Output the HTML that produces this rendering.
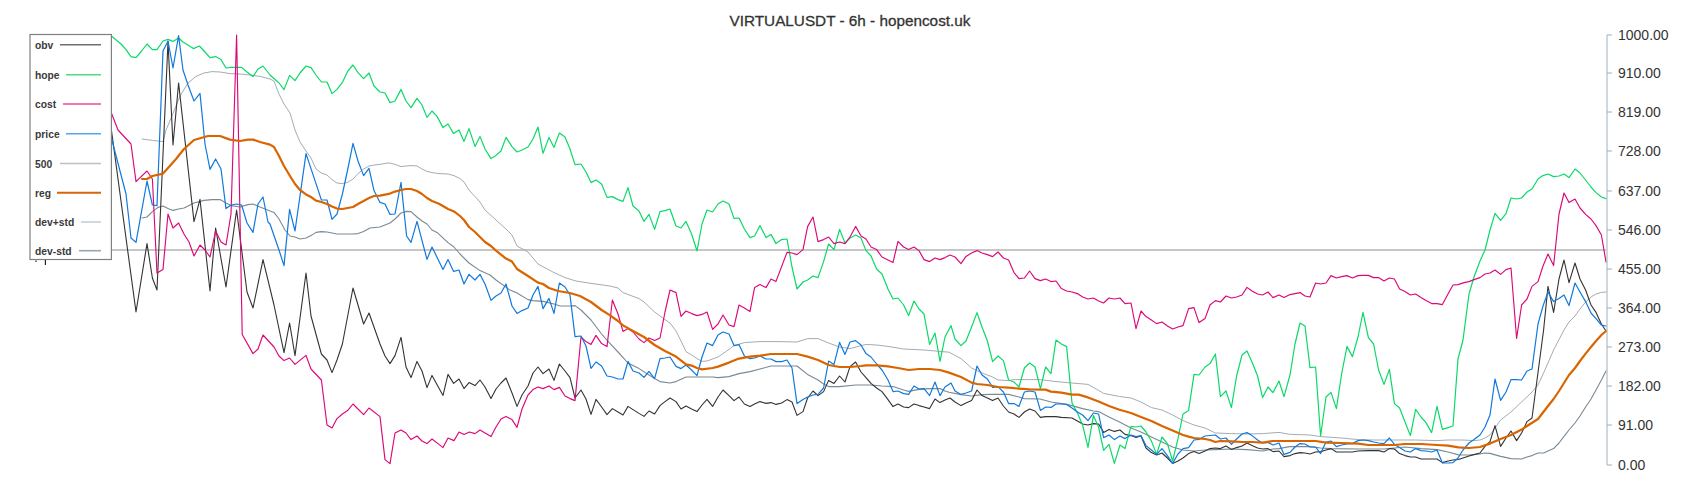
<!DOCTYPE html>
<html><head><meta charset="utf-8"><title>VIRTUALUSDT - 6h - hopencost.uk</title>
<style>
html,body{margin:0;padding:0;background:#fff;}
body{width:1700px;height:500px;overflow:hidden;}
svg{display:block;}
text{font-family:"Liberation Sans",sans-serif;fill:#333;}
.title{font-size:15.3px;fill:#333;stroke:#333;stroke-width:0.3px;}
.yl{font-size:14px;fill:#333;}
.lg{font-size:10.3px;font-weight:bold;fill:#3a3a3a;}
</style></head><body>
<svg width="1700" height="500" viewBox="0 0 1700 500">
<rect width="1700" height="500" fill="#fff"/>
<text x="850" y="26" text-anchor="middle" class="title" id="title">VIRTUALUSDT - 6h - hopencost.uk</text>
<g id="series">
<line x1="111.4" y1="250" x2="1606" y2="250" stroke="#b4b4b4" stroke-width="1.3"/>
<polyline points="142.0,139.0 152.4,140.4 163.0,141.6 166.0,130.0 172.0,116.0 180.0,96.0 188.0,83.0 196.0,76.4 204.0,73.0 212.0,71.6 220.0,72.0 230.0,73.6 240.0,74.0 250.0,75.0 260.0,76.4 270.0,79.0 274.0,81.0 279.0,94.0 284.0,104.0 290.0,113.0 295.0,130.0 300.0,142.0 306.0,151.0 311.0,158.0 316.0,169.0 321.4,173.0 327.0,175.0 332.0,179.6 337.0,183.0 342.4,183.6 347.6,182.4 353.0,179.0 358.0,173.6 363.6,169.0 369.0,166.0 374.0,165.0 380.0,164.4 385.0,163.4 390.0,163.0 395.0,164.4 401.0,166.6 406.0,166.0 411.0,165.6 417.0,166.0 422.0,169.0 427.0,171.4 432.0,172.6 439.0,173.6 448.0,174.0 454.0,175.6 460.0,178.6 464.0,182.0 469.0,190.0 480.0,202.0 485.0,210.0 496.0,220.0 506.0,229.0 512.0,235.0 517.0,246.0 528.0,252.0 538.0,264.0 554.0,272.6 565.0,277.6 576.0,281.0 591.0,283.4 610.0,286.0 618.0,288.0 623.0,292.6 639.0,298.6 644.0,302.0 654.6,312.0 665.0,319.6 670.0,323.0 676.0,331.0 681.0,341.0 686.0,351.6 691.6,355.0 697.0,358.6 702.0,361.4 707.0,361.0 718.0,357.0 729.0,349.4 734.0,345.6 744.4,342.6 760.0,341.6 779.0,341.6 797.0,342.0 807.6,338.6 818.0,338.6 828.6,343.0 839.6,347.0 850.0,348.6 866.0,344.4 876.6,345.0 888.0,346.4 903.6,349.0 924.0,350.0 940.0,351.4 949.0,352.2 961.0,358.6 971.6,368.0 982.0,373.0 992.6,377.0 998.0,380.0 1008.6,380.6 1014.0,379.6 1029.6,379.6 1040.4,379.6 1056.0,381.6 1072.0,383.0 1088.0,384.4 1098.6,390.4 1103.6,393.4 1119.5,396.5 1131.0,398.0 1141.0,402.0 1151.4,407.6 1162.0,410.0 1172.6,415.0 1183.0,420.6 1194.0,425.0 1205.0,428.0 1215.4,433.0 1231.4,433.6 1247.0,434.0 1262.6,433.6 1279.0,432.4 1289.5,434.3 1310.0,435.0 1320.6,436.6 1341.6,438.0 1358.0,439.6 1373.6,440.0 1394.4,440.0 1415.6,440.0 1437.0,440.6 1448.0,440.0 1459.0,440.0 1463.0,440.0 1474.0,440.6 1480.0,440.0 1485.0,438.0 1490.0,435.0 1495.0,428.0 1500.6,420.0 1511.0,412.0 1521.6,402.0 1532.0,392.0 1538.0,385.0 1543.6,373.0 1553.6,350.0 1564.0,330.0 1569.0,322.0 1575.0,316.0 1580.0,309.0 1585.6,302.0 1591.0,297.0 1596.0,294.0 1601.4,292.4 1606.0,292.0" fill="none" stroke="#9da8b0" stroke-width="0.95" stroke-linejoin="round" stroke-linecap="round" />
<polyline points="142.0,218.0 147.0,217.0 152.4,211.6 158.0,207.4 163.0,206.0 168.0,208.4 173.0,210.4 178.6,209.0 184.0,208.0 194.0,203.0 204.0,200.4 212.0,199.6 220.0,199.6 226.0,203.0 231.0,205.6 240.0,207.0 248.0,204.6 253.0,204.0 260.0,207.0 270.0,211.0 274.0,212.4 279.0,219.0 285.0,230.0 290.0,236.0 295.0,237.0 300.0,239.0 306.0,238.0 311.0,235.6 316.0,232.4 321.4,231.6 327.0,232.0 332.0,233.0 337.0,234.0 342.4,234.0 347.6,234.0 353.0,234.0 358.0,233.6 363.6,231.6 370.0,228.0 380.0,227.0 390.0,223.0 395.0,219.0 401.0,213.0 406.0,211.4 411.0,211.6 417.0,217.0 422.0,221.0 427.0,224.0 432.0,230.0 437.0,232.4 448.0,242.6 454.0,247.0 460.0,254.0 469.0,263.0 480.0,270.6 490.0,275.0 496.0,280.0 509.0,289.4 517.0,293.0 528.0,299.6 533.0,300.6 543.0,301.4 554.0,304.0 560.0,306.0 570.0,306.0 575.0,305.6 581.0,310.0 591.0,320.0 601.6,334.0 609.0,342.4 618.0,352.0 628.0,363.0 639.0,368.6 649.0,375.0 654.6,378.6 660.0,381.6 670.0,383.0 676.0,381.6 686.0,377.0 697.0,377.0 712.6,377.0 718.0,377.6 729.0,376.6 739.0,373.6 750.0,371.6 760.0,369.0 771.0,366.0 779.0,366.0 797.0,366.0 807.6,374.4 818.0,380.0 823.6,384.0 828.6,386.6 839.6,386.6 855.6,385.0 871.0,385.0 882.0,386.0 893.0,386.6 903.6,390.0 908.6,391.4 919.0,389.4 929.6,388.6 940.0,388.6 945.0,391.0 949.0,392.2 961.0,394.6 971.6,396.0 982.0,394.6 992.6,394.4 1008.6,394.4 1019.0,397.0 1024.4,398.6 1040.0,399.0 1051.0,402.0 1061.4,403.6 1066.6,404.4 1072.0,405.6 1082.6,408.6 1093.4,411.0 1098.6,411.6 1109.0,417.0 1119.5,422.0 1131.0,428.0 1141.0,432.0 1151.4,437.0 1162.0,442.0 1172.6,447.0 1183.0,450.0 1194.0,451.0 1205.0,450.0 1215.4,449.6 1231.4,449.0 1247.0,449.6 1262.6,451.0 1273.0,449.0 1279.0,448.6 1289.5,446.6 1310.0,446.6 1320.6,448.0 1331.0,448.6 1358.0,449.0 1384.0,449.0 1394.4,448.0 1405.0,447.0 1421.0,448.6 1437.0,449.6 1448.0,452.0 1458.5,454.9 1469.0,455.0 1480.0,454.0 1485.0,453.0 1490.0,453.4 1500.6,456.4 1511.0,458.6 1521.6,459.0 1527.0,457.0 1532.0,455.6 1538.0,453.0 1543.6,453.0 1553.6,448.6 1559.0,443.0 1564.0,436.4 1569.0,430.0 1575.0,423.0 1580.0,416.0 1585.6,407.0 1591.0,399.0 1596.0,390.0 1601.4,380.0 1606.0,371.0" fill="none" stroke="#7a8993" stroke-width="1.1" stroke-linejoin="round" stroke-linecap="round" />
<polyline points="111.4,130.0 136.0,312.0 147.0,243.6 152.4,278.0 157.0,290.0 168.0,41.6 173.0,145.0 178.6,83.0 194.0,221.6 200.0,199.4 210.0,291.0 215.6,228.0 226.0,287.0 236.6,210.0 247.0,292.0 253.0,308.0 263.0,259.6 274.0,305.0 284.0,352.6 289.6,323.0 295.0,355.6 306.0,273.0 311.0,316.0 321.4,354.0 327.0,360.0 332.0,372.6 337.0,360.0 342.4,344.0 353.0,288.0 363.6,324.0 369.0,313.0 380.0,344.0 385.0,356.0 390.0,363.6 395.0,355.6 401.0,337.4 406.0,367.0 411.0,377.6 417.0,361.4 422.0,371.0 427.0,387.6 432.0,375.4 443.0,395.4 448.0,374.4 453.6,383.4 459.0,379.0 464.0,388.6 469.0,382.6 475.0,385.6 480.0,380.0 485.0,387.0 491.0,398.6 496.0,389.0 501.0,383.0 506.0,378.0 512.0,393.0 517.0,406.4 522.0,395.0 528.0,386.0 533.0,373.0 538.0,367.0 543.0,373.6 549.0,369.0 554.0,380.4 559.4,364.0 565.0,371.0 570.0,377.6 575.0,398.0 581.0,390.0 586.0,399.0 591.0,414.4 596.0,399.4 601.6,407.0 607.0,414.6 612.4,408.6 618.0,412.0 623.0,415.0 628.0,406.4 633.0,409.6 639.0,413.4 644.0,416.4 649.0,411.0 654.6,414.0 660.0,405.6 665.0,401.6 670.0,398.0 676.0,401.6 681.0,409.0 686.0,406.0 691.6,409.0 697.0,411.6 702.0,405.0 707.0,399.4 712.6,406.4 718.0,397.0 723.0,390.0 729.0,395.6 734.0,400.6 739.0,397.0 744.4,404.0 750.0,406.6 754.6,404.0 760.0,401.6 766.0,403.4 771.0,402.6 776.0,404.4 781.6,403.0 787.0,399.6 792.0,402.0 797.0,415.4 803.0,411.6 807.6,398.0 813.0,391.0 818.0,395.6 823.6,391.6 828.6,380.4 834.0,383.4 839.6,376.0 845.0,382.0 850.0,366.6 855.6,362.0 861.0,372.0 866.0,377.6 871.0,383.4 876.6,388.0 882.0,391.6 888.0,399.6 893.0,406.6 898.0,404.0 903.6,407.0 908.6,407.6 914.0,404.0 919.0,405.6 924.0,407.0 929.6,408.6 935.0,399.0 940.0,402.6 945.0,400.0 950.0,398.0 955.0,402.0 961.0,405.6 966.0,403.0 971.6,400.6 977.0,390.0 982.0,395.6 987.4,398.0 992.6,400.6 998.0,398.0 1003.4,406.0 1008.6,412.0 1014.0,414.0 1019.0,417.4 1024.4,412.0 1029.6,409.0 1035.0,411.0 1040.4,417.4 1045.6,416.6 1056.0,416.6 1061.4,417.4 1072.0,418.0 1077.4,421.0 1082.6,424.0 1088.0,425.0 1093.4,423.6 1098.6,424.0 1103.6,432.4 1109.0,429.4 1114.4,431.4 1120.0,430.0 1125.0,434.4 1131.0,435.6 1136.0,437.6 1141.0,436.0 1146.0,448.0 1151.4,452.6 1156.6,455.0 1162.0,453.0 1167.4,458.0 1172.6,463.4 1178.0,461.0 1183.0,458.0 1188.6,453.6 1194.0,451.6 1199.0,453.6 1205.0,451.0 1210.0,448.6 1215.4,448.0 1220.4,448.6 1226.0,446.0 1231.4,449.4 1236.6,447.6 1242.0,446.0 1247.0,443.0 1252.0,445.6 1257.6,448.0 1262.6,449.0 1268.0,448.6 1273.0,451.6 1279.0,451.0 1284.0,456.6 1290.0,455.6 1295.0,453.6 1300.0,452.6 1305.0,453.0 1310.0,454.0 1315.6,452.0 1320.6,451.6 1326.0,450.0 1331.0,448.6 1336.4,452.0 1341.6,452.0 1352.4,452.0 1358.0,451.0 1368.4,450.6 1378.6,450.6 1384.0,452.0 1389.4,448.6 1394.4,449.0 1399.6,453.6 1405.0,455.6 1410.4,457.0 1415.6,457.0 1421.0,459.0 1431.6,459.0 1437.0,459.0 1442.4,462.6 1448.0,461.0 1453.0,460.0 1458.5,459.5 1463.0,458.0 1469.0,456.0 1474.0,454.6 1480.0,453.0 1485.0,446.4 1490.0,441.6 1495.0,425.6 1500.6,446.4 1506.0,438.0 1511.0,431.0 1516.6,440.6 1521.6,433.0 1527.0,421.6 1532.0,418.0 1543.6,330.0 1548.0,286.4 1553.6,312.4 1559.0,279.0 1564.0,260.0 1569.0,282.6 1575.0,263.0 1580.0,279.0 1585.6,290.0 1591.0,305.0 1596.0,312.4 1601.4,324.0 1606.0,331.0" fill="none" stroke="#333333" stroke-width="1.1" stroke-linejoin="round" stroke-linecap="round" />
<polyline points="111.4,36.0 121.0,44.0 126.0,49.6 131.0,56.6 136.0,57.6 141.6,51.0 147.0,44.0 152.4,49.6 157.0,49.6 163.0,41.0 168.0,39.4 173.0,41.4 178.6,38.0 183.0,42.0 188.0,45.0 193.4,48.6 199.4,46.0 205.0,52.0 210.0,57.6 215.6,56.6 221.0,59.6 226.0,68.0 231.0,67.4 236.6,67.4 241.6,67.4 247.0,72.0 253.0,76.6 258.0,69.0 263.0,66.0 270.0,75.0 279.0,83.0 284.0,89.6 289.6,75.4 295.0,80.6 300.0,73.0 306.0,66.0 311.0,67.6 316.0,75.0 321.4,82.0 327.0,82.0 332.0,93.6 337.0,89.4 342.4,82.4 347.6,71.4 353.0,65.0 358.0,72.6 363.6,78.6 369.0,73.0 374.0,86.0 380.0,92.0 385.0,93.0 390.0,102.6 395.0,101.0 401.0,89.4 406.0,101.0 411.0,107.6 417.0,98.4 422.0,105.0 427.0,117.4 432.0,111.0 437.0,116.4 443.0,127.6 448.0,124.0 453.6,133.6 459.0,130.0 464.0,141.4 469.0,128.6 475.0,146.4 480.0,136.4 485.0,149.0 491.0,158.6 496.0,155.4 501.0,151.0 506.0,137.4 512.0,146.6 517.0,152.0 522.0,150.0 528.0,147.0 533.0,139.0 538.0,127.0 543.0,153.4 549.0,137.4 554.0,147.4 559.4,133.0 565.0,137.0 570.0,149.0 575.0,164.6 581.0,164.0 586.0,172.0 591.0,182.6 596.0,180.0 601.6,184.0 607.0,197.4 612.4,196.6 618.0,199.6 623.0,201.4 628.0,187.6 633.0,206.0 639.0,211.0 644.0,221.4 649.0,214.4 654.6,229.4 660.0,211.6 665.0,210.6 670.0,209.0 676.0,226.0 681.0,228.0 686.0,221.4 691.6,234.0 697.0,251.0 702.0,224.0 707.0,210.0 712.6,212.0 718.0,204.0 723.0,201.0 729.0,204.0 734.0,218.4 739.0,218.0 744.4,229.0 750.0,237.6 754.6,236.0 760.0,225.4 766.0,237.6 771.0,234.4 776.0,243.6 781.6,239.6 787.0,239.0 792.0,267.0 797.0,289.0 803.0,282.0 807.6,280.0 813.0,276.0 818.0,277.6 823.6,261.6 828.6,244.0 834.0,249.6 839.6,229.4 845.0,243.0 850.0,238.0 855.6,235.0 861.0,238.0 866.0,250.6 871.0,256.0 876.6,269.0 882.0,274.0 888.0,289.0 893.0,299.0 898.0,298.0 903.6,305.0 908.6,315.6 914.0,301.0 919.0,309.0 924.0,314.0 929.6,344.4 935.0,333.0 940.0,361.4 945.0,337.0 951.0,325.6 955.0,339.0 961.0,345.6 966.0,341.0 971.6,327.0 977.0,312.6 982.0,327.0 987.4,341.0 992.6,361.6 998.0,356.0 1003.4,360.6 1008.6,380.0 1014.0,382.0 1019.0,387.0 1024.4,368.0 1029.6,363.0 1035.0,367.0 1040.4,388.6 1045.6,367.0 1051.0,373.6 1056.0,340.0 1061.4,344.0 1066.6,346.6 1072.0,403.0 1077.4,413.0 1082.6,425.0 1088.0,447.4 1093.4,415.6 1098.6,427.0 1103.6,450.4 1109.0,444.4 1114.4,463.4 1120.0,445.0 1125.0,448.6 1131.0,426.4 1136.0,427.0 1141.0,426.0 1146.0,432.0 1151.4,441.0 1156.6,454.4 1162.0,437.0 1167.4,443.6 1172.6,461.0 1178.0,438.6 1183.0,414.0 1188.6,410.4 1194.0,374.4 1199.0,375.0 1205.0,367.0 1210.0,363.6 1215.4,354.0 1220.4,396.6 1226.0,391.0 1231.4,407.6 1236.6,376.0 1242.0,355.0 1247.0,351.0 1252.0,362.0 1257.6,376.0 1262.6,397.6 1268.0,387.0 1273.0,392.6 1279.0,381.0 1284.0,396.6 1290.0,375.0 1295.0,344.0 1300.0,323.0 1305.0,326.0 1310.0,367.6 1315.6,367.0 1320.6,436.0 1326.0,397.0 1331.0,392.4 1336.4,408.6 1341.6,374.0 1347.0,346.4 1352.4,356.6 1358.0,337.0 1363.0,312.4 1368.4,337.6 1373.6,344.0 1378.6,370.0 1384.0,384.4 1389.4,369.4 1394.4,403.6 1399.6,408.0 1405.0,422.0 1410.4,435.6 1415.6,409.4 1421.0,417.0 1426.0,422.6 1431.6,432.6 1437.0,406.4 1442.4,429.4 1448.0,427.6 1453.0,426.0 1458.0,359.0 1463.0,340.0 1469.0,294.0 1474.0,277.0 1480.0,261.0 1485.0,250.0 1490.0,230.0 1495.0,213.4 1500.6,220.4 1506.0,213.6 1511.0,198.0 1516.6,199.0 1521.6,198.0 1527.0,192.0 1532.0,189.0 1538.0,179.0 1543.0,175.6 1548.0,174.0 1553.6,176.6 1559.0,176.0 1564.0,174.0 1569.0,177.6 1575.0,169.0 1580.0,173.0 1585.6,180.0 1591.0,187.0 1596.0,192.6 1601.4,197.0 1606.0,198.6" fill="none" stroke="#0bd968" stroke-width="1.2" stroke-linejoin="round" stroke-linecap="round" />
<polyline points="111.4,113.0 118.0,130.0 131.0,144.0 136.0,181.6 147.0,171.0 152.4,179.0 157.0,273.0 163.0,269.4 168.0,214.0 173.0,228.0 178.6,223.0 184.0,234.0 189.0,242.0 194.0,256.0 200.0,245.0 205.0,250.0 210.0,257.0 215.6,231.0 221.0,242.0 226.0,245.0 231.0,214.0 236.6,35.0 242.2,334.5 253.0,353.6 258.0,349.0 263.0,335.0 274.0,347.0 279.0,356.0 284.0,360.6 289.6,358.0 295.0,364.4 306.0,355.4 311.0,369.0 321.4,380.0 327.0,425.0 332.0,428.0 337.0,418.6 342.4,414.0 347.6,410.6 353.0,404.0 363.6,414.6 369.0,408.0 380.0,416.6 385.0,459.6 390.0,463.6 395.0,433.0 401.0,430.0 406.0,433.0 411.0,439.6 417.0,436.0 422.0,441.0 427.0,443.6 432.0,439.0 438.0,443.6 443.0,447.6 448.0,438.0 454.0,440.6 459.0,432.0 464.0,434.6 469.4,432.0 475.0,433.6 480.0,430.0 491.0,436.6 496.0,427.0 501.0,419.0 506.0,416.6 512.0,419.6 517.0,427.4 522.0,409.0 528.0,395.0 533.0,389.6 538.0,387.0 543.0,388.6 549.0,386.0 554.0,389.6 559.4,387.4 565.0,396.0 570.0,398.6 575.0,400.6 581.0,337.0 586.0,341.6 591.0,344.4 596.0,335.4 601.6,343.6 607.0,346.6 612.4,300.0 618.0,314.0 623.0,331.4 628.0,328.6 633.0,332.0 639.0,339.0 644.0,342.6 649.0,338.0 654.6,340.6 660.0,338.0 665.0,312.0 670.0,290.0 676.0,292.6 681.0,316.4 686.0,311.0 691.6,313.6 697.0,315.6 702.0,314.4 707.0,312.0 712.6,329.4 718.0,324.0 723.0,315.0 729.0,325.0 734.0,326.6 739.0,305.0 744.4,308.0 750.0,311.4 754.6,287.6 760.0,284.6 766.0,287.6 771.0,279.0 776.0,281.4 787.0,252.4 792.0,253.0 797.0,254.6 803.0,249.6 807.6,226.6 813.0,217.0 818.0,241.6 823.6,239.6 828.6,237.0 834.0,243.6 839.6,242.0 845.0,243.6 850.0,237.0 855.6,226.4 861.0,236.0 866.0,239.0 871.0,247.0 876.6,249.6 882.0,257.0 888.0,260.0 893.0,262.6 898.0,241.4 903.6,247.0 908.6,249.6 914.0,247.0 919.0,250.6 924.0,259.6 929.6,261.6 935.0,258.0 940.0,259.6 945.0,257.6 950.0,255.0 955.0,257.0 961.0,263.6 966.0,256.4 971.6,253.0 977.0,250.6 982.0,253.0 987.4,254.6 992.6,256.6 998.0,252.0 1003.4,258.0 1008.6,260.0 1014.0,272.6 1019.0,278.6 1024.4,278.0 1029.6,271.0 1035.0,278.6 1040.4,280.6 1045.6,279.0 1051.0,281.6 1056.0,281.0 1061.4,288.6 1066.6,291.0 1072.0,292.0 1077.4,293.6 1082.6,297.0 1088.0,299.0 1093.4,298.0 1098.6,301.0 1103.6,303.0 1109.0,298.0 1114.4,299.0 1120.0,298.0 1125.0,303.6 1131.0,303.0 1136.0,328.6 1141.0,311.0 1146.0,316.6 1151.4,320.0 1156.6,323.6 1162.0,322.0 1167.4,326.0 1172.6,329.0 1178.0,327.0 1183.0,325.6 1188.6,308.6 1194.0,307.6 1199.0,322.6 1205.0,318.6 1210.0,305.0 1215.4,300.6 1220.4,302.0 1226.0,296.0 1231.4,298.0 1236.6,297.0 1242.0,295.0 1247.0,287.4 1252.0,291.0 1257.6,294.0 1262.6,295.0 1268.0,292.0 1273.0,297.6 1279.0,295.0 1284.0,297.6 1290.0,294.6 1295.0,293.6 1300.0,292.6 1305.0,296.0 1310.0,297.0 1315.6,283.0 1320.6,284.0 1326.0,283.0 1331.0,275.6 1336.4,278.0 1341.6,276.6 1347.0,275.6 1352.4,278.0 1358.0,275.6 1363.0,275.4 1368.4,275.4 1373.6,277.6 1378.6,277.6 1384.0,281.0 1389.4,278.0 1394.4,279.0 1399.6,289.0 1405.0,291.6 1410.4,295.0 1415.6,294.0 1421.0,297.6 1426.0,300.6 1431.6,303.6 1437.0,303.6 1442.4,304.6 1448.0,294.0 1453.0,285.0 1458.0,284.6 1464.0,282.6 1469.0,281.6 1474.0,279.6 1480.0,277.6 1485.0,274.0 1490.0,273.0 1495.0,270.0 1500.6,274.4 1506.0,269.6 1511.0,268.0 1516.6,338.4 1521.6,305.0 1527.0,299.0 1532.0,286.4 1538.0,281.6 1543.0,266.0 1548.0,254.0 1553.6,265.6 1559.0,214.0 1564.0,193.0 1569.0,202.6 1575.0,199.0 1580.0,208.0 1585.6,214.4 1591.0,219.0 1596.0,225.6 1601.4,235.0 1606.0,262.0" fill="none" stroke="#dc0878" stroke-width="1.15" stroke-linejoin="round" stroke-linecap="round" />
<polyline points="111.4,138.0 126.0,194.0 131.0,238.0 136.0,242.4 147.0,181.0 152.4,205.0 157.0,205.6 163.0,51.0 168.0,41.0 173.0,68.0 178.6,35.6 183.0,70.0 188.0,85.0 194.0,101.0 200.0,93.4 205.0,144.0 210.0,169.4 215.6,159.0 221.0,169.0 226.0,208.6 231.0,205.0 236.6,204.0 241.6,205.0 247.0,223.0 253.0,232.4 258.0,204.0 263.0,197.0 268.0,222.0 270.0,224.0 279.0,250.0 284.0,265.6 289.6,209.4 295.0,231.0 306.0,153.6 311.0,168.6 316.0,183.6 321.4,200.0 327.0,200.0 332.0,219.4 337.0,214.0 342.4,194.0 347.6,170.0 353.0,143.4 358.0,161.0 363.6,175.6 369.0,168.4 374.0,190.6 380.0,202.4 385.0,204.0 390.0,214.4 395.0,214.0 401.0,182.4 406.6,236.0 411.0,242.4 417.0,221.4 427.0,259.4 432.0,247.0 443.0,269.4 448.0,259.6 453.6,271.4 459.0,270.0 464.0,284.0 469.0,274.4 475.0,280.0 480.0,274.4 485.0,284.0 491.0,300.4 496.0,296.0 501.0,293.0 506.0,284.0 512.0,306.0 517.0,313.4 522.0,310.6 528.0,308.0 533.0,295.0 538.0,286.4 543.0,308.6 549.0,298.4 554.0,313.4 559.4,283.0 565.0,287.0 570.0,295.0 575.0,336.6 581.0,336.0 586.0,346.0 591.0,368.4 596.0,362.0 601.6,366.0 607.0,376.0 612.4,377.0 618.0,379.0 623.0,379.0 628.0,361.4 633.0,371.0 639.0,373.0 644.0,377.4 649.0,371.4 654.6,378.6 660.0,358.6 665.0,358.0 670.0,357.0 676.0,366.4 681.0,368.6 686.0,365.0 691.6,370.0 697.0,375.6 702.0,357.0 707.0,343.0 712.6,345.6 718.0,335.0 723.0,332.0 729.0,334.0 734.0,345.6 739.0,344.6 744.4,356.0 750.0,358.6 754.6,358.0 760.0,356.0 766.0,359.0 771.0,359.0 776.0,361.6 781.6,361.6 787.0,360.0 792.0,368.0 797.0,403.6 803.0,399.6 807.6,397.0 813.0,395.0 818.0,394.4 823.6,388.0 828.6,361.0 834.0,364.4 839.6,342.4 845.0,354.4 850.0,342.0 855.6,340.6 861.0,345.0 866.0,353.6 871.0,357.0 876.6,364.0 882.0,370.0 888.0,380.0 893.0,391.6 898.0,391.0 903.6,393.6 908.6,394.4 914.0,386.0 919.0,389.0 924.0,388.6 929.6,395.6 935.0,382.0 940.0,395.6 945.0,387.0 951.0,383.0 955.0,391.0 961.0,394.4 966.0,393.0 971.6,391.0 977.0,366.0 982.0,375.0 987.4,379.0 992.6,387.4 998.0,386.6 1003.4,392.0 1008.6,403.6 1014.0,403.6 1019.0,406.4 1024.4,392.0 1029.6,391.0 1035.0,392.0 1040.4,410.4 1045.6,407.0 1051.0,407.4 1056.0,404.0 1061.4,404.0 1066.6,404.4 1072.0,408.0 1077.4,412.0 1082.6,415.0 1088.0,420.6 1093.4,413.0 1098.6,414.0 1103.6,437.6 1109.0,435.0 1114.4,439.6 1120.0,436.0 1125.0,438.6 1131.0,435.0 1136.0,436.6 1141.0,435.6 1146.0,445.6 1151.4,450.0 1156.6,454.4 1162.0,448.6 1167.4,455.6 1172.6,463.4 1178.0,454.0 1183.0,448.6 1188.6,447.6 1194.0,440.0 1199.0,439.4 1205.0,436.0 1215.4,435.0 1220.4,439.0 1226.0,438.0 1231.4,444.4 1236.6,439.0 1242.0,434.0 1247.0,432.6 1252.0,435.6 1257.6,440.0 1262.6,443.0 1268.0,442.4 1273.0,445.0 1279.0,443.0 1284.0,454.4 1290.0,452.4 1295.0,447.0 1300.0,443.6 1305.0,444.0 1310.0,447.0 1315.6,447.0 1320.6,453.6 1326.0,442.0 1331.0,441.0 1336.4,446.6 1341.6,445.0 1347.0,444.0 1352.4,443.6 1358.0,440.6 1363.0,440.0 1368.4,440.6 1373.6,442.0 1378.6,443.0 1384.0,443.6 1389.4,438.0 1394.4,444.4 1399.6,447.6 1405.0,451.0 1410.4,452.0 1415.6,448.6 1421.0,450.6 1426.0,451.0 1431.6,452.0 1437.0,450.0 1442.4,463.0 1448.0,463.0 1453.0,462.6 1458.0,458.0 1463.0,450.0 1469.0,443.0 1474.0,439.6 1480.0,435.0 1485.0,427.0 1490.0,415.0 1495.0,379.0 1500.6,400.4 1506.0,392.0 1511.0,379.6 1516.6,379.6 1521.6,380.0 1527.0,371.0 1532.0,369.0 1538.0,324.0 1543.0,306.0 1548.0,292.0 1553.6,301.6 1559.0,298.6 1564.0,295.0 1569.0,305.6 1575.0,283.0 1580.0,292.0 1585.6,301.6 1591.0,313.0 1596.0,318.6 1601.4,325.0 1606.0,326.0" fill="none" stroke="#1079dc" stroke-width="1.2" stroke-linejoin="round" stroke-linecap="round" />
<polyline points="142.0,179.0 147.0,179.0 152.4,176.0 163.0,173.6 168.0,168.0 176.0,159.0 184.0,149.0 194.0,140.0 208.0,136.0 220.0,136.0 230.0,139.6 240.0,141.0 248.0,139.6 253.0,139.6 260.0,142.0 270.0,144.6 274.0,147.0 279.0,156.0 284.0,166.0 290.0,176.0 295.0,184.0 300.0,190.0 306.0,194.4 311.0,197.0 316.0,200.6 321.4,202.0 327.0,204.0 332.0,206.6 337.0,208.6 342.4,209.0 347.6,208.0 353.0,207.0 358.0,204.0 363.6,201.0 369.0,198.0 374.0,196.0 380.0,195.6 385.0,194.6 390.0,193.6 395.0,191.6 401.0,190.0 406.0,189.0 411.0,189.0 417.0,191.0 422.0,194.0 427.0,198.0 432.0,201.0 439.0,203.8 448.0,209.0 454.0,211.4 460.0,216.0 464.0,220.0 469.0,227.0 475.0,232.0 485.0,242.0 491.0,246.0 496.0,250.6 506.0,258.6 512.0,261.6 517.0,269.0 528.0,276.0 538.0,282.6 543.0,284.0 549.0,288.0 558.0,291.0 570.0,293.0 580.0,296.0 591.0,302.0 601.6,310.0 609.0,314.6 618.0,321.0 623.0,325.4 633.0,331.0 644.0,337.0 654.6,345.0 665.0,351.0 676.0,356.6 686.0,364.4 691.6,365.6 697.0,368.0 702.0,369.4 712.6,368.0 718.0,366.6 729.0,362.6 739.0,358.6 750.0,356.6 760.0,355.6 771.0,354.0 779.0,354.0 797.0,354.0 807.6,356.6 818.0,360.0 828.6,365.0 839.6,367.0 850.0,367.0 861.0,366.0 866.0,365.4 876.6,365.4 888.0,366.4 898.0,368.0 908.6,370.0 919.0,369.0 929.6,369.0 940.0,370.0 949.0,372.6 961.0,377.0 971.6,382.6 977.0,384.0 987.4,385.0 998.0,387.0 1008.6,387.6 1019.0,388.6 1029.6,389.4 1045.6,389.6 1051.0,391.6 1061.4,392.6 1072.0,394.6 1078.6,394.6 1088.0,397.4 1098.6,401.6 1109.0,406.0 1119.5,409.8 1131.0,413.0 1141.0,417.0 1151.4,421.0 1162.0,426.0 1172.6,430.4 1183.0,435.0 1188.6,436.6 1194.0,438.0 1205.0,439.0 1210.0,440.0 1215.4,442.0 1220.4,441.0 1231.4,441.4 1242.0,442.0 1252.0,442.0 1262.6,442.6 1273.0,441.0 1289.5,441.0 1315.6,441.0 1326.0,442.6 1341.6,443.0 1358.0,443.6 1368.4,445.0 1384.0,445.0 1394.4,445.0 1405.0,444.0 1421.0,444.0 1437.0,445.0 1448.0,445.6 1458.5,447.3 1469.0,448.0 1480.0,447.0 1490.0,443.6 1500.6,439.0 1511.0,435.0 1521.6,429.6 1527.0,426.0 1538.0,419.0 1548.0,406.0 1553.6,399.0 1559.0,391.0 1564.0,383.0 1569.0,375.0 1575.0,368.0 1580.0,361.0 1585.6,353.6 1591.0,347.0 1596.0,341.0 1601.4,335.0 1606.0,331.0" fill="none" stroke="#d96500" stroke-width="2.2" stroke-linejoin="round" stroke-linecap="round" />
</g>
<g id="yaxis">
<line x1="1607" y1="35" x2="1607" y2="465" stroke="#9fb0bb" stroke-width="1"/>
<line x1="1607" y1="35.0" x2="1612" y2="35.0" stroke="#9fb0bb" stroke-width="1"/><text x="1618" y="39.7" class="yl">1000.00</text><line x1="1607" y1="73.0" x2="1612" y2="73.0" stroke="#9fb0bb" stroke-width="1"/><text x="1618" y="77.7" class="yl">910.00</text><line x1="1607" y1="112.0" x2="1612" y2="112.0" stroke="#9fb0bb" stroke-width="1"/><text x="1618" y="116.7" class="yl">819.00</text><line x1="1607" y1="151.0" x2="1612" y2="151.0" stroke="#9fb0bb" stroke-width="1"/><text x="1618" y="155.7" class="yl">728.00</text><line x1="1607" y1="191.0" x2="1612" y2="191.0" stroke="#9fb0bb" stroke-width="1"/><text x="1618" y="195.7" class="yl">637.00</text><line x1="1607" y1="230.0" x2="1612" y2="230.0" stroke="#9fb0bb" stroke-width="1"/><text x="1618" y="234.7" class="yl">546.00</text><line x1="1607" y1="269.0" x2="1612" y2="269.0" stroke="#9fb0bb" stroke-width="1"/><text x="1618" y="273.7" class="yl">455.00</text><line x1="1607" y1="308.0" x2="1612" y2="308.0" stroke="#9fb0bb" stroke-width="1"/><text x="1618" y="312.7" class="yl">364.00</text><line x1="1607" y1="347.0" x2="1612" y2="347.0" stroke="#9fb0bb" stroke-width="1"/><text x="1618" y="351.7" class="yl">273.00</text><line x1="1607" y1="386.0" x2="1612" y2="386.0" stroke="#9fb0bb" stroke-width="1"/><text x="1618" y="390.7" class="yl">182.00</text><line x1="1607" y1="425.0" x2="1612" y2="425.0" stroke="#9fb0bb" stroke-width="1"/><text x="1618" y="429.7" class="yl">91.00</text><line x1="1607" y1="465.0" x2="1612" y2="465.0" stroke="#9fb0bb" stroke-width="1"/><text x="1618" y="469.7" class="yl">0.00</text>
</g>
<g id="legend">
<rect x="30" y="34.5" width="81.4" height="225" fill="#fff" stroke="#808080" stroke-width="1.2"/>
<path d="M36 260.5v1.5M45.4 260v5" stroke="#222" stroke-width="1.2" fill="none"/>
<text x="35" y="49.0" class="lg" id="lg0">obv</text><line id="ll0" x1="60" y1="44.8" x2="101" y2="44.8" stroke="#6f6f6f" stroke-width="1.6"/><text x="35" y="78.9" class="lg" id="lg1">hope</text><line id="ll1" x1="66" y1="74.7" x2="101" y2="74.7" stroke="#4ade80" stroke-width="1.6"/><text x="35" y="108.2" class="lg" id="lg2">cost</text><line id="ll2" x1="63" y1="104.0" x2="101" y2="104.0" stroke="#ec4899" stroke-width="1.6"/><text x="35" y="137.9" class="lg" id="lg3">price</text><line id="ll3" x1="66" y1="133.7" x2="101" y2="133.7" stroke="#55a8ee" stroke-width="1.6"/><text x="35" y="167.7" class="lg" id="lg4">500</text><line id="ll4" x1="60" y1="163.5" x2="101" y2="163.5" stroke="#c0c0c0" stroke-width="1.6"/><text x="35" y="197.0" class="lg" id="lg5">reg</text><line id="ll5" x1="57" y1="192.8" x2="101" y2="192.8" stroke="#d9650a" stroke-width="2.1"/><text x="35" y="226.2" class="lg" id="lg6">dev+std</text><line id="ll6" x1="81" y1="222.0" x2="101" y2="222.0" stroke="#c5d0d6" stroke-width="1.6"/><text x="35" y="254.9" class="lg" id="lg7">dev-std</text><line id="ll7" x1="79" y1="250.7" x2="101" y2="250.7" stroke="#98a6b0" stroke-width="1.6"/>
</g>
</svg>
</body></html>
